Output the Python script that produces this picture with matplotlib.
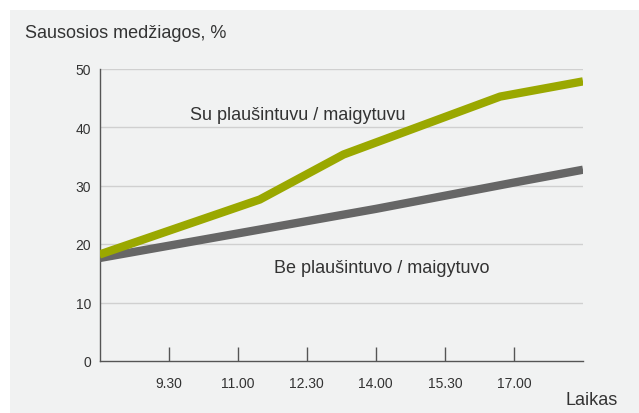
import matplotlib
matplotlib.use("Agg")
import matplotlib.pyplot as plt
from matplotlib.patches import Rectangle

plt.rcParams['font.family'] = ['Liberation Sans', 'DejaVu Sans']

# Data (time in hours, values in %)
time_su = [8.0, 11.48, 13.3, 16.7, 18.5]
val_su = [18.2, 27.6, 35.3, 45.2, 47.8]
time_be = [8.0, 11.0, 14.0, 17.0, 18.5]
val_be = [17.6, 21.8, 26.0, 30.5, 32.7]
xtick_pos = [9.5, 11.0, 12.5, 14.0, 15.5, 17.0]
xtick_labels = ["9.30", "11.00", "12.30", "14.00", "15.30", "17.00"]
ytick_pos = [0, 10, 20, 30, 40, 50]

W, H = 639, 414
fig = plt.figure(figsize=(W / 100, H / 100), dpi=100)
fig.patch.set_facecolor("white")
bg = Rectangle((10 / W, 0), 1 - 10 / W, (H - 11) / H,
               transform=fig.transFigure, facecolor="#f1f2f2",
               edgecolor="none", zorder=-10)
fig.add_artist(bg)

ax = fig.add_axes([99.5 / W, (H - 362) / H, (583 - 99.5) / W, (362 - 69.5) / H])
ax.set_zorder(1)
ax.set_facecolor("none")
ax.set_xlim(8.0, 18.5)
ax.set_ylim(0, 50)

for y in ytick_pos[1:]:
    ax.axhline(y, color="#d0d0d0", lw=1.0, zorder=1)

ax.plot(time_be, val_be, color="#666666", lw=6.0, solid_capstyle="butt",
        solid_joinstyle="round", zorder=3)
ax.plot(time_su, val_su, color="#9aa800", lw=6.0, solid_capstyle="butt",
        solid_joinstyle="round", zorder=4)

for s in ["top", "right"]:
    ax.spines[s].set_visible(False)
for s in ["left", "bottom"]:
    ax.spines[s].set_color("#555555")
    ax.spines[s].set_linewidth(1.0)

ax.set_xticks(xtick_pos)
ax.set_xticklabels(xtick_labels)
ax.set_yticks(ytick_pos)
ax.tick_params(axis="x", direction="in", length=10, width=1.0, color="#555555",
               pad=11, labelsize=10, labelcolor="#333333")
ax.tick_params(axis="y", length=0, pad=6, labelsize=10, labelcolor="#333333")

txtc = "#333333"
fig.text(25 / W, 1 - 34 / H, "Sausosios medžiagos, %", fontsize=13, color=txtc,
         ha="left", va="center")
ax.text(12.3, 42.2, "Su plaušintuvu / maigytuvu", fontsize=13, color=txtc,
        ha="center", va="center")
ax.text(14.13, 16.0, "Be plaušintuvo / maigytuvo", fontsize=13, color=txtc,
        ha="center", va="center")
fig.text(592 / W, 1 - 401 / H, "Laikas", fontsize=13, color=txtc,
         ha="center", va="center")

fig.savefig("out.png", dpi=100)
